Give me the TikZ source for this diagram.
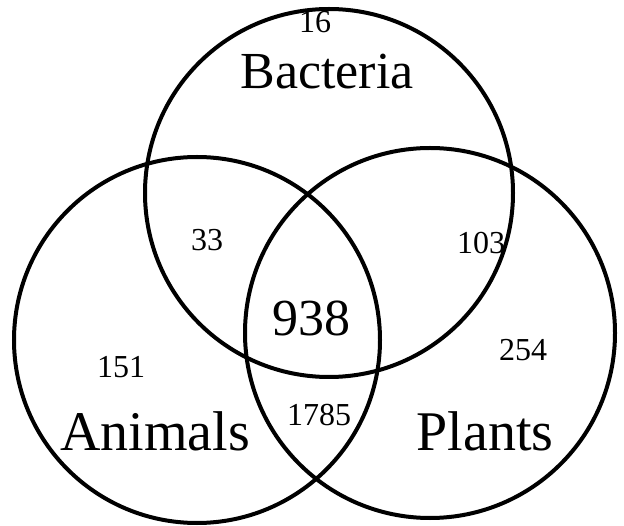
\documentclass[tikz,border=0pt]{standalone}
\usepackage{fontspec}
\setmainfont{Liberation Serif}
\usetikzlibrary{positioning}

\begin{document}
\begin{tikzpicture}[
    x=1pt, y=-1pt,
    ring/.style={draw, circle, line width=4pt, inner sep=0pt},
    big/.style={font=\fontsize{52}{52}\selectfont, inner sep=0pt},
    huge/.style={font=\fontsize{56}{56}\selectfont, inner sep=0pt},
    num/.style={font=\fontsize{32}{32}\selectfont, inner sep=0pt},
  ]
    \useasboundingbox (0,0) rectangle (624,526);
    % ===== three sets =====
    \node[ring, minimum size=368pt] (bac) at (329,193) {};
    \node[ring, minimum size=366pt] (ani) at (197,340) {};
    \node[ring, minimum size=370pt] (pla) at (430,333) {};
    % ===== set names =====
    \node[big]  (bacName) at (327,72)  {Bacteria};
    \node[huge] (aniName) at (155,431) {Animals};
    \node[huge] (plaName) at (485,431) {Plants};
    % ===== counts =====
    \node[num] (nB)   at (315,22)  {16};
    \node[num] (nBA)  at (207,240) {33};
    \node[num] (nBP)  at (481,243) {103};
    \node[big] (nAll) at (311,318) {938};
    \node[num] (nA)   at (121,367) {151};
    \node[num] (nP)   at (523,350) {254};
    \node[num] (nAP)  at (319,415) {1785};
  \end{tikzpicture}
\end{document}
